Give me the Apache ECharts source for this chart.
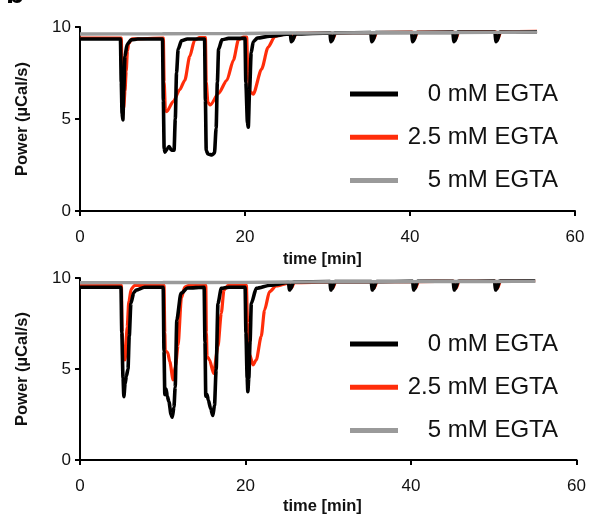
<!DOCTYPE html>
<html>
<head>
<meta charset="utf-8">
<script src="https://cdn.jsdelivr.net/npm/echarts@6/dist/echarts.min.js"></script>
<style>
html,body{margin:0;padding:0;background:#fff;}
#chart{width:589px;height:518px;}
</style>
</head>
<body>
<div id="chart"></div>
<script>
// ---- data ----
var seriesNames = ['0 mM EGTA', '2.5 mM EGTA', '5 mM EGTA'];
var xTicks = [0, 20, 40, 60];
var yTicks = [0, 5, 10];
var xLabel = 'time [min]';
var yLabel = 'Power (µCal/s)';

// top panel
var top0 = [[0,9.35],[4.9,9.35],[5.0,7.0],[5.1,5.3],[5.2,4.95],[5.3,6.5],[5.45,8.4],[5.7,9.05],[6.2,9.3],[7,9.35],
  [10.0,9.35],[10.1,6.0],[10.2,3.4],[10.3,3.2],[10.6,3.4],[10.8,3.5],[11.1,3.3],[11.4,3.3],[11.55,5.0],[11.7,7.5],[11.9,8.8],[12.3,9.25],[13,9.35],
  [15.1,9.35],[15.2,6.0],[15.3,3.3],[15.5,3.1],[16.0,3.05],[16.3,3.15],[16.5,4.5],[16.65,7.0],[16.8,8.8],[17.2,9.3],[18,9.38],
  [20.0,9.38],[20.1,7.0],[20.3,4.8],[20.4,4.55],[20.55,6.5],[20.75,8.6],[21.0,9.2],[21.5,9.4],[23,9.5],[25.5,9.62],
  [25.6,9.2],[25.75,9.25],[26.1,9.62],[30.3,9.68],[30.4,9.2],[30.55,9.25],[30.9,9.68],[35.25,9.7],[35.35,9.2],[35.5,9.25],[35.85,9.7],
  [40.2,9.7],[40.3,9.2],[40.45,9.25],[40.8,9.7],[45.2,9.72],[45.3,9.2],[45.45,9.25],[45.8,9.72],[50.3,9.72],[50.4,9.2],[50.55,9.25],[50.9,9.72],[55.4,9.74]];
var top25 = [[0,9.4],[5.0,9.4],[5.1,7.5],[5.2,5.2],[5.3,5.6],[5.45,6.5],[5.6,7.6],[5.75,8.7],[5.9,9.1],[6.3,9.35],
  [10.1,9.4],[10.2,7.0],[10.35,5.5],[10.5,5.4],[11.3,5.95],[12.1,6.6],[12.7,7.1],[13.3,8.4],[13.9,9.3],[14.5,9.42],
  [15.2,9.42],[15.3,7.0],[15.5,5.9],[15.8,5.76],[16.8,6.4],[17.8,7.1],[18.6,8.2],[19.2,9.3],[19.8,9.45],
  [20.2,9.45],[20.35,7.5],[20.6,6.5],[21.0,6.35],[22.0,7.7],[22.8,8.9],[23.6,9.47],[24.2,9.57],[25.6,9.65],
  [25.7,9.3],[25.85,9.35],[26.2,9.65],[30.4,9.68],[30.5,9.3],[30.65,9.35],[31.0,9.68],[35.35,9.7],[35.45,9.3],[35.6,9.35],[35.95,9.7],
  [40.3,9.72],[40.4,9.3],[40.55,9.35],[40.9,9.72],[45.3,9.72],[45.4,9.3],[45.55,9.35],[45.9,9.72],[50.4,9.74],[50.5,9.3],[50.65,9.35],[51.0,9.74],[55.4,9.76]];
var top5 = [[0,9.62],[10,9.63],[20,9.65],[25,9.67],[30,9.68],[40,9.7],[50,9.71],[55.4,9.72]];

// bottom panel
var bot0 = [[0,9.49],[4.95,9.49],[5.05,7.0],[5.2,4.5],[5.3,3.48],[5.45,4.2],[5.6,4.6],[5.8,5.0],[5.95,6.8],[6.15,8.6],[6.5,9.2],[6.8,9.34],[7.8,9.49],
  [10.05,9.49],[10.15,6.0],[10.25,3.6],[10.4,3.9],[10.55,3.5],[10.75,3.2],[11.0,2.5],[11.15,2.35],[11.35,2.9],[11.5,4.0],[11.7,7.7],[12.2,9.16],[13.0,9.45],
  [15.0,9.49],[15.1,6.5],[15.2,3.5],[15.35,3.6],[15.5,3.3],[15.8,2.8],[16.05,2.45],[16.25,3.0],[16.45,4.95],[16.67,8.6],[17.07,9.43],[18,9.49],
  [19.95,9.49],[20.05,7.0],[20.2,4.5],[20.28,3.75],[20.4,4.5],[20.55,6.5],[20.7,8.6],[21.3,9.43],[23,9.6],[25.2,9.75],
  [25.3,9.34],[25.45,9.4],[25.8,9.78],[30.2,9.8],[30.3,9.34],[30.45,9.4],[30.8,9.8],[35.2,9.8],[35.3,9.34],[35.45,9.4],[35.8,9.8],
  [40.2,9.82],[40.3,9.34],[40.45,9.4],[40.8,9.82],[45.1,9.82],[45.2,9.34],[45.35,9.4],[45.7,9.82],[50.1,9.83],[50.2,9.34],[50.35,9.4],[50.7,9.83],[55.0,9.84]];
var bot25 = [[0,9.6],[5.0,9.6],[5.1,7.0],[5.25,5.6],[5.45,5.5],[5.7,7.3],[5.9,8.7],[6.2,9.4],[6.6,9.6],
  [10.15,9.6],[10.25,7.0],[10.3,6.0],[10.6,5.9],[10.85,5.4],[11.25,4.4],[11.55,5.2],[11.85,6.3],[12.25,8.9],[12.65,9.5],[13.2,9.6],
  [15.2,9.6],[15.27,7.0],[15.35,5.7],[15.65,5.5],[16.14,4.76],[16.67,6.23],[17.07,8.06],[17.4,9.34],[17.9,9.6],
  [20.1,9.6],[20.25,7.5],[20.5,5.8],[20.9,5.22],[21.3,5.5],[21.9,6.8],[22.3,8.24],[22.9,9.25],[23.7,9.56],[25.3,9.72],
  [25.4,9.4],[25.55,9.45],[25.9,9.75],[30.3,9.78],[30.4,9.4],[30.55,9.45],[30.9,9.78],[35.3,9.8],[35.4,9.4],[35.55,9.45],[35.9,9.8],
  [40.3,9.8],[40.4,9.4],[40.55,9.45],[40.9,9.8],[45.2,9.82],[45.3,9.4],[45.45,9.45],[45.8,9.82],[50.2,9.82],[50.3,9.4],[50.45,9.45],[50.8,9.82],[55.0,9.85]];
var bot5 = [[0,9.74],[10,9.75],[20,9.76],[25,9.78],[30,9.79],[40,9.8],[50,9.81],[55.0,9.82]];

var colors = {'0 mM EGTA':'#000000','2.5 mM EGTA':'#ff2d0a','5 mM EGTA':'#9a9a9a'};
var FONT = 'Liberation Sans, Arial, sans-serif';

function xAxisCfg(gi){
  return {type:'value', gridIndex:gi, min:0, max:60, interval:20,
    axisLine:{show:true, lineStyle:{color:'#000', width:2}},
    axisTick:{show:true, length:5, lineStyle:{color:'#000', width:2}},
    axisLabel:{color:'#111', fontSize:17, fontFamily:FONT, margin:18},
    splitLine:{show:false}};
}
function yAxisCfg(gi){
  return {type:'value', gridIndex:gi, min:0, max:10, interval:5,
    name:yLabel, nameLocation:'middle', nameGap:49, nameRotate:90,
    nameTextStyle:{color:'#111', fontSize:16.5, fontWeight:'bold', fontFamily:FONT},
    axisLine:{show:true, lineStyle:{color:'#000', width:2}},
    axisTick:{show:true, length:5, lineStyle:{color:'#000', width:2}},
    axisLabel:{color:'#111', fontSize:17, fontFamily:FONT, margin:9},
    splitLine:{show:false}};
}
function line(name, data, gi, w){
  return {name:name, type:'line', xAxisIndex:gi, yAxisIndex:gi, data:data,
    showSymbol:false, symbol:'none', smooth:0.25, smoothMonotone:'x', animation:false,
    lineStyle:{color:colors[name], width:w}, itemStyle:{color:colors[name]}};
}
function legendCfg(top){
  return {orient:'vertical', left:350, top:top, padding:0, itemWidth:48, itemHeight:5, itemGap:19.3,
    icon:'rect', data:seriesNames, itemStyle:{borderWidth:0},
    formatter:'{n|{name}}',
    textStyle:{rich:{n:{width:155, align:'right', fontSize:24, lineHeight:24, color:'#111', fontFamily:FONT}}}};
}

var chart = echarts.init(document.getElementById('chart'), null, {renderer:'canvas'});
chart.setOption({
  animation:false,
  backgroundColor:'#fff',
  grid:[{left:80, top:27, width:495, height:184}, {left:80, top:278, width:497, height:182}],
  xAxis:[xAxisCfg(0), xAxisCfg(1)],
  yAxis:[yAxisCfg(0), yAxisCfg(1)],
  legend:[legendCfg(82), legendCfg(332)],
  series:[
    line(seriesNames[1], top25, 0, 3.2),
    line(seriesNames[0], top0, 0, 3.6),
    line(seriesNames[2], top5, 0, 3.4),
    line(seriesNames[1], bot25, 1, 3.2),
    line(seriesNames[0], bot0, 1, 3.6),
    line(seriesNames[2], bot5, 1, 3.4)
  ],
  graphic:[
    {type:'text', x:283, y:251, style:{text:xLabel, font:'bold 16.5px ' + FONT, fill:'#111'}},
    {type:'text', x:283, y:498, style:{text:xLabel, font:'bold 16.5px ' + FONT, fill:'#111'}},
    {type:'text', x:6, y:-20, style:{text:'b', font:'bold 30px ' + FONT, fill:'#000'}}
  ]
});
</script>
</body>
</html>
